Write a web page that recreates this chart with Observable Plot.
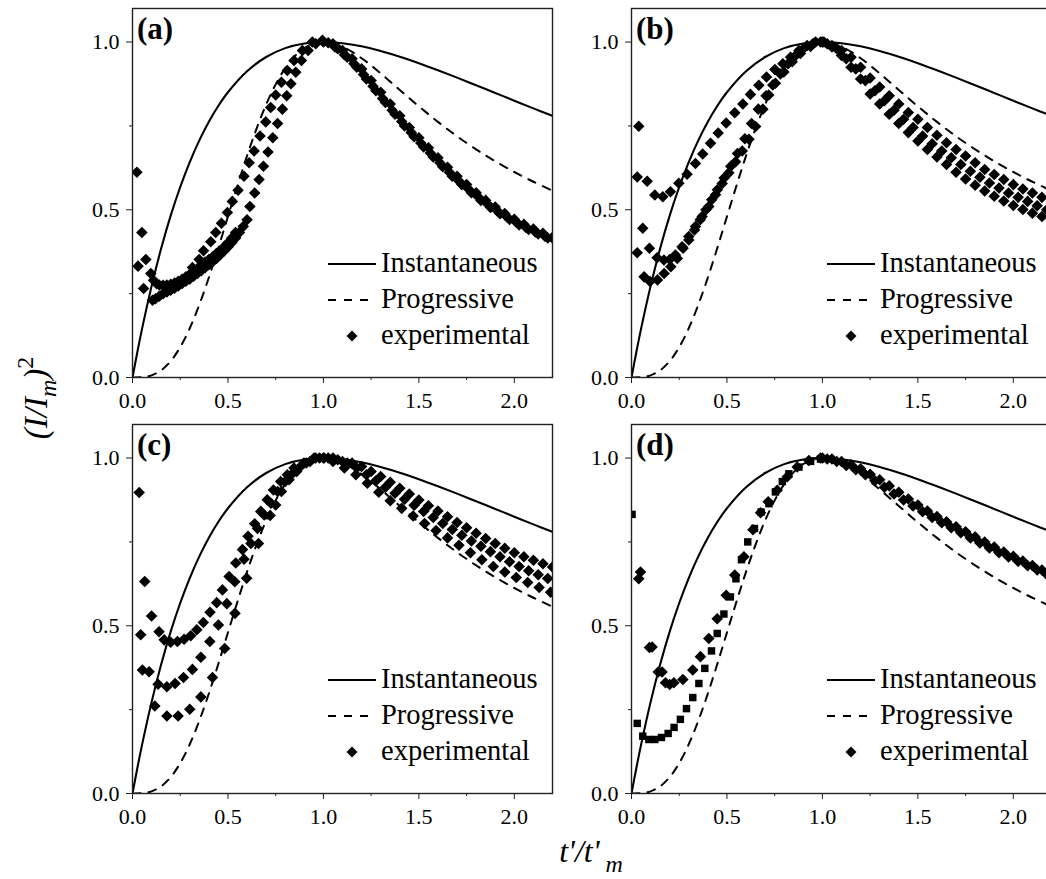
<!DOCTYPE html>
<html>
<head>
<meta charset="utf-8">
<script src="https://cdn.jsdelivr.net/npm/d3@7"></script>
<script src="https://cdn.jsdelivr.net/npm/@observablehq/plot@0.6"></script>
<style>
html, body { margin:0; padding:0; background:#fff; }
#fig { position:relative; width:1046px; height:879px; overflow:hidden; background:#fff; font-family:"Liberation Serif","Times New Roman",serif; }
#fig svg { position:absolute; }
</style>
</head>
<body>
<div id="fig"></div>
<script>
// ---------- theoretical curves ----------
const instX = [0, 0.025, 0.05, 0.1, 0.15, 0.2, 0.25, 0.3, 0.35, 0.4, 0.45, 0.5, 0.6, 0.7, 0.8, 0.9, 1.0, 1.1, 1.2, 1.3, 1.4, 1.5, 1.6, 1.7, 1.8, 1.9, 2.0, 2.1, 2.2];
const instY = [0, 0.0747, 0.1449, 0.2724, 0.3844, 0.4825, 0.5679, 0.6423, 0.7068, 0.7624, 0.8100, 0.8503, 0.9129, 0.9554, 0.9819, 0.9959, 0.9999, 0.9965, 0.9872, 0.9735, 0.9565, 0.9371, 0.9161, 0.8940, 0.8712, 0.8482, 0.8252, 0.8023, 0.7798];
const progX = [0, 0.05, 0.1, 0.15, 0.2, 0.25, 0.3, 0.35, 0.4, 0.45, 0.5, 0.55, 0.6, 0.65, 0.7, 0.75, 0.8, 0.85, 0.9, 0.95, 1.0, 1.1, 1.2, 1.3, 1.4, 1.5, 1.6, 1.7, 1.8, 1.9, 2.0, 2.1, 2.2];
const progY = [0, 0.0008, 0.0065, 0.0214, 0.0488, 0.0905, 0.1469, 0.2170, 0.2981, 0.3870, 0.4797, 0.5722, 0.6608, 0.7421, 0.8137, 0.8739, 0.9221, 0.9579, 0.9822, 0.9958, 1.0000, 0.9861, 0.9518, 0.9066, 0.8574, 0.8084, 0.7620, 0.7191, 0.6801, 0.6447, 0.6126, 0.5835, 0.5570];

// ---------- axis ticks ----------
const xMajor = [0, 0.5, 1.0, 1.5, 2.0];
const xMinor = [0.25, 0.75, 1.25, 1.75];
const yMajor = [0, 0.5, 1.0];
const yMinor = [0.25, 0.75];

// ---------- panel (a) experimental ----------
const aEarly = [[0.023,0.612],[0.049,0.432],[0.070,0.352],[0.029,0.332],[0.058,0.265]];
const aDenseUpper = [[0.096,0.31],[0.11,0.29],[0.125,0.28],[0.14,0.276],[0.16,0.275],[0.18,0.276],[0.20,0.278],[0.22,0.282],[0.24,0.287],[0.26,0.293],[0.28,0.30],[0.30,0.308],[0.32,0.317],[0.34,0.325],[0.36,0.334],[0.38,0.344],[0.40,0.352],[0.42,0.36],[0.44,0.37],[0.46,0.378],[0.48,0.39],[0.50,0.402],[0.52,0.416],[0.54,0.432]];
const aDenseLower = [[0.105,0.23],[0.12,0.235],[0.14,0.242],[0.16,0.25],[0.18,0.255],[0.20,0.26],[0.22,0.266],[0.24,0.273],[0.26,0.28],[0.28,0.287],[0.30,0.294],[0.32,0.302],[0.34,0.31],[0.36,0.318],[0.38,0.327],[0.40,0.336],[0.42,0.345],[0.44,0.355],[0.46,0.366],[0.48,0.377],[0.50,0.389],[0.52,0.402],[0.54,0.416],[0.56,0.432],[0.58,0.45],[0.60,0.47]];
const aChainUpper = [[0.314,0.328],[0.349,0.352],[0.372,0.378],[0.41,0.405],[0.436,0.432],[0.466,0.46],[0.497,0.492],[0.523,0.525],[0.553,0.558],[0.584,0.6],[0.611,0.64],[0.637,0.675],[0.668,0.72],[0.698,0.762],[0.724,0.805],[0.75,0.842],[0.78,0.88],[0.811,0.915],[0.846,0.945],[0.89,0.975],[0.942,1.0],[0.995,1.005]];
const aChainLower = [[0.615,0.51],[0.64,0.55],[0.663,0.59],[0.686,0.63],[0.71,0.672],[0.735,0.715],[0.76,0.757],[0.785,0.8],[0.808,0.84],[0.83,0.876],[0.855,0.91],[0.885,0.945],[0.92,0.975],[0.96,0.995]];
const aDecay1 = [[1.0,1.0],[1.05,0.995],[1.1,0.975],[1.15,0.95],[1.2,0.92],[1.25,0.885],[1.3,0.85],[1.35,0.815],[1.4,0.78],[1.45,0.745],[1.5,0.715],[1.55,0.685],[1.6,0.655],[1.65,0.627],[1.7,0.6],[1.75,0.575],[1.8,0.551],[1.85,0.528],[1.9,0.508],[1.95,0.489],[2.0,0.472],[2.05,0.457],[2.1,0.443],[2.15,0.43],[2.2,0.418]];
const aDecay2 = [[1.025,0.998],[1.075,0.98],[1.125,0.955],[1.175,0.925],[1.225,0.89],[1.275,0.855],[1.325,0.82],[1.375,0.785],[1.425,0.75],[1.475,0.718],[1.525,0.687],[1.575,0.657],[1.625,0.628],[1.675,0.6],[1.725,0.575],[1.775,0.551],[1.825,0.528],[1.875,0.507],[1.925,0.488],[1.975,0.471],[2.025,0.455],[2.075,0.441],[2.125,0.428],[2.175,0.416]];
const aDecay3 = [[1.06,0.985],[1.11,0.962],[1.16,0.935],[1.21,0.903],[1.26,0.868],[1.31,0.832],[1.36,0.797],[1.41,0.763],[1.46,0.73],[1.51,0.699],[1.56,0.669],[1.61,0.64],[1.66,0.612],[1.71,0.586],[1.76,0.562],[1.81,0.539],[1.86,0.517],[1.91,0.497],[1.96,0.479],[2.01,0.463],[2.06,0.448],[2.11,0.434],[2.16,0.421],[2.21,0.41]];

// ---------- panel (b) experimental ----------
const bUpper = [[0.038,0.749],[0.030,0.598],[0.082,0.585],[0.122,0.544],[0.164,0.539],[0.204,0.554],[0.248,0.579],[0.291,0.606],[0.335,0.638],[0.373,0.666],[0.414,0.698],[0.454,0.729],[0.496,0.759],[0.541,0.789],[0.583,0.815],[0.623,0.844],[0.667,0.871],[0.707,0.896],[0.751,0.918],[0.793,0.935],[0.833,0.955],[0.877,0.975],[0.92,0.99],[0.964,1.0],[1.008,1.0]];
const bMiddle = [[0.030,0.372],[0.059,0.445],[0.094,0.385],[0.134,0.357],[0.17,0.35],[0.2,0.352],[0.23,0.365],[0.265,0.39],[0.3,0.42],[0.335,0.45],[0.37,0.48],[0.405,0.51],[0.44,0.545],[0.475,0.578],[0.51,0.61],[0.545,0.643],[0.58,0.675],[0.615,0.71],[0.65,0.748],[0.688,0.8],[0.719,0.842],[0.754,0.877],[0.798,0.911],[0.842,0.941],[0.885,0.966],[0.938,0.987],[0.99,1.0]];
const bLower = [[0.066,0.30],[0.097,0.286],[0.136,0.291],[0.171,0.31],[0.206,0.33],[0.24,0.355],[0.27,0.385],[0.3,0.41],[0.33,0.44],[0.36,0.47],[0.39,0.5],[0.42,0.53],[0.45,0.56],[0.485,0.595],[0.52,0.63],[0.555,0.668],[0.594,0.712],[0.629,0.757],[0.664,0.8],[0.705,0.84],[0.74,0.872],[0.78,0.905],[0.82,0.935],[0.86,0.96],[0.9,0.98],[0.95,0.995]];
const bDecayTop = [[1.0,1.0],[1.05,0.99],[1.1,0.975],[1.15,0.955],[1.2,0.925],[1.25,0.893],[1.3,0.866],[1.35,0.84],[1.4,0.815],[1.45,0.79],[1.5,0.77],[1.55,0.745],[1.6,0.722],[1.65,0.70],[1.7,0.68],[1.75,0.66],[1.8,0.64],[1.85,0.62],[1.9,0.605],[1.95,0.59],[2.0,0.575],[2.05,0.562],[2.1,0.55],[2.15,0.537],[2.2,0.525]];
const bDecayMid = [[1.025,0.995],[1.075,0.98],[1.125,0.95],[1.175,0.92],[1.225,0.885],[1.275,0.855],[1.325,0.825],[1.375,0.797],[1.425,0.77],[1.475,0.745],[1.525,0.72],[1.575,0.697],[1.625,0.675],[1.675,0.655],[1.725,0.635],[1.775,0.615],[1.825,0.597],[1.875,0.58],[1.925,0.565],[1.975,0.55],[2.025,0.537],[2.075,0.525],[2.125,0.512],[2.175,0.5]];
const bDecayBot = [[1.05,0.985],[1.1,0.96],[1.15,0.925],[1.2,0.89],[1.25,0.845],[1.3,0.815],[1.35,0.785],[1.4,0.757],[1.45,0.73],[1.5,0.705],[1.55,0.68],[1.6,0.657],[1.65,0.635],[1.7,0.612],[1.75,0.592],[1.8,0.573],[1.85,0.556],[1.9,0.54],[1.95,0.526],[2.0,0.513],[2.05,0.501],[2.1,0.49],[2.15,0.48],[2.2,0.47]];

// ---------- panel (c) experimental ----------
const cUpper = [[0.035,0.897],[0.064,0.632],[0.1,0.529],[0.043,0.473],[0.139,0.482],[0.166,0.458],[0.2,0.451],[0.235,0.453],[0.27,0.46],[0.305,0.47],[0.337,0.488],[0.371,0.51],[0.406,0.54],[0.441,0.569],[0.471,0.607],[0.506,0.647],[0.541,0.687],[0.576,0.727],[0.605,0.767],[0.64,0.804],[0.672,0.841],[0.706,0.876],[0.738,0.905],[0.776,0.93],[0.811,0.95],[0.846,0.97],[0.898,0.985],[0.951,1.0],[1.003,1.0]];
const cMiddle = [[0.052,0.368],[0.087,0.363],[0.134,0.326],[0.18,0.318],[0.223,0.328],[0.267,0.346],[0.314,0.37],[0.358,0.406],[0.405,0.453],[0.45,0.502],[0.494,0.566],[0.536,0.631],[0.584,0.698],[0.62,0.745],[0.655,0.79],[0.69,0.83],[0.725,0.865],[0.76,0.9],[0.8,0.93],[0.84,0.955],[0.88,0.975],[0.93,0.99],[0.98,1.0]];
const cLower = [[0.117,0.261],[0.18,0.231],[0.239,0.231],[0.3,0.251],[0.358,0.288],[0.419,0.346],[0.483,0.432],[0.537,0.537],[0.598,0.642],[0.66,0.745],[0.721,0.829],[0.75,0.86],[0.78,0.9],[0.82,0.935],[0.86,0.96],[0.91,0.985],[0.96,1.0]];
const cDecayTop = [[1.0,1.0],[1.05,1.0],[1.1,0.99],[1.15,0.985],[1.2,0.975],[1.25,0.96],[1.3,0.945],[1.35,0.928],[1.4,0.91],[1.45,0.893],[1.5,0.875],[1.55,0.858],[1.6,0.842],[1.65,0.825],[1.7,0.808],[1.75,0.792],[1.8,0.776],[1.85,0.76],[1.9,0.745],[1.95,0.731],[2.0,0.718],[2.05,0.706],[2.1,0.695],[2.15,0.685],[2.2,0.675]];
const cDecayMid = [[1.025,1.0],[1.075,0.995],[1.125,0.985],[1.175,0.97],[1.225,0.95],[1.275,0.932],[1.325,0.913],[1.375,0.895],[1.425,0.877],[1.475,0.859],[1.525,0.841],[1.575,0.823],[1.625,0.805],[1.675,0.787],[1.725,0.77],[1.775,0.753],[1.825,0.737],[1.875,0.721],[1.925,0.706],[1.975,0.691],[2.025,0.677],[2.075,0.664],[2.125,0.652],[2.175,0.641]];
const cDecayBot = [[1.05,0.99],[1.11,0.97],[1.17,0.95],[1.23,0.925],[1.29,0.898],[1.35,0.873],[1.41,0.85],[1.47,0.827],[1.53,0.805],[1.59,0.784],[1.65,0.762],[1.71,0.74],[1.77,0.718],[1.83,0.697],[1.89,0.677],[1.95,0.66],[2.01,0.644],[2.07,0.629],[2.13,0.614],[2.19,0.6]];

// ---------- panel (d) experimental ----------
const dSquares = [[0.003,0.832],[0.03,0.209],[0.059,0.171],[0.091,0.161],[0.122,0.161],[0.157,0.167],[0.192,0.179],[0.223,0.197],[0.256,0.221],[0.288,0.253],[0.321,0.286],[0.353,0.328],[0.384,0.373],[0.419,0.425],[0.449,0.477],[0.484,0.535],[0.518,0.586],[0.547,0.64],[0.576,0.697],[0.609,0.75],[0.644,0.79],[0.679,0.839],[0.72,0.864],[0.754,0.899],[0.79,0.93],[0.824,0.953],[0.877,0.973],[0.938,0.99],[0.99,0.997]];
const dDiamonds = [[0.038,0.64],[0.047,0.66],[0.094,0.435],[0.108,0.437],[0.14,0.362],[0.16,0.362],[0.178,0.33],[0.2,0.325],[0.222,0.33],[0.269,0.34],[0.321,0.368],[0.361,0.408],[0.405,0.462],[0.449,0.521],[0.496,0.591],[0.541,0.651],[0.589,0.706],[0.636,0.786],[0.676,0.837],[0.716,0.87],[0.763,0.904],[0.816,0.944],[0.868,0.973],[0.929,0.993],[0.99,1.0]];
const dDecay1 = [[1.0,1.0],[1.05,0.997],[1.1,0.99],[1.15,0.98],[1.2,0.968],[1.25,0.952],[1.3,0.935],[1.35,0.917],[1.4,0.898],[1.45,0.878],[1.5,0.86],[1.55,0.842],[1.6,0.826],[1.65,0.81],[1.7,0.795],[1.75,0.78],[1.8,0.765],[1.85,0.75],[1.9,0.735],[1.95,0.72],[2.0,0.707],[2.05,0.693],[2.1,0.68],[2.15,0.666],[2.2,0.653]];
const dDecay2 = [[1.025,0.997],[1.075,0.99],[1.125,0.978],[1.175,0.965],[1.225,0.95],[1.275,0.932],[1.325,0.913],[1.375,0.893],[1.425,0.875],[1.475,0.857],[1.525,0.84],[1.575,0.823],[1.625,0.807],[1.675,0.792],[1.725,0.777],[1.775,0.762],[1.825,0.747],[1.875,0.732],[1.925,0.718],[1.975,0.705],[2.025,0.692],[2.075,0.679],[2.125,0.666],[2.175,0.653]];

const legendLabels = ["Instantaneous", "Progressive", "experimental"];
const panelLabels = ["(a)", "(b)", "(c)", "(d)"];

// ---------- build ----------
const toPts = arr => arr.map(([x, y]) => ({x, y}));
const instTable = instX.map((x, i) => ({x, y: instY[i]}));
const progTable = progX.map((x, i) => ({x, y: progY[i]}));

const diamondSym = {
  draw(ctx, size) {
    const r = Math.sqrt(size / 2);
    ctx.moveTo(0, -r); ctx.lineTo(r, 0); ctx.lineTo(0, r); ctx.lineTo(-r, 0); ctx.closePath();
  }
};

const W = 482, H = 424, ML = 60, MR = 2, MT = 10, MB = 45;
const FONT = "'Liberation Serif', 'Times New Roman', serif";
const DR = 4.6;

const panels = [
  {label: panelLabels[0], left: 131.7, top: 8.3, diamonds: [aEarly, aDenseUpper, aDenseLower, aChainUpper, aChainLower, aDecay1, aDecay2, aDecay3], squares: []},
  {label: panelLabels[1], left: 630.7, top: 8.3, diamonds: [bUpper, bMiddle, bLower, bDecayTop, bDecayMid, bDecayBot], squares: []},
  {label: panelLabels[2], left: 131.7, top: 424, diamonds: [cUpper, cMiddle, cLower, cDecayTop, cDecayMid, cDecayBot], squares: []},
  {label: panelLabels[3], left: 630.7, top: 424, diamonds: [dDiamonds, dDecay1, dDecay2], squares: [dSquares]}
];

const fig = document.getElementById("fig");
const NS = "http://www.w3.org/2000/svg";
function el(name, attrs, text) {
  const e = document.createElementNS(NS, name);
  for (const k in attrs) e.setAttribute(k, attrs[k]);
  if (text != null) e.textContent = text;
  return e;
}

for (const p of panels) {
  const dia = p.diamonds.flatMap(toPts);
  const sq = p.squares.flatMap(toPts);
  const chart = Plot.plot({
    width: W, height: H,
    marginLeft: ML, marginRight: MR, marginTop: MT, marginBottom: MB,
    style: {fontFamily: FONT, fontSize: "22px", color: "black", background: "transparent", overflow: "visible"},
    x: {domain: [0, 2.2], label: null},
    y: {domain: [0, 1.1], label: null},
    marks: [
      Plot.line(instTable, {x: "x", y: "y", curve: "catmull-rom", stroke: "black", strokeWidth: 2.1, clip: true}),
      Plot.line(progTable, {x: "x", y: "y", curve: "catmull-rom", stroke: "black", strokeWidth: 2, strokeDasharray: "8,8", clip: true}),
      Plot.dot(sq, {x: "x", y: "y", symbol: "square", r: 4.2, fill: "black", stroke: "none", clip: true}),
      Plot.dot(dia, {x: "x", y: "y", symbol: diamondSym, r: DR, fill: "black", stroke: "none", clip: true}),
      Plot.frame({stroke: "#222", strokeWidth: 1.4}),
      Plot.axisX(xMajor, {tickSize: 6, tickPadding: 9, tickFormat: d3.format(".1f"), label: null, stroke: "#222"}),
      Plot.axisX(xMinor, {tickSize: 3, tickFormat: () => "", label: null, stroke: "#222"}),
      Plot.axisY(yMajor, {tickSize: 6, tickPadding: 7, tickFormat: d3.format(".1f"), label: null, stroke: "#222"}),
      Plot.axisY(yMinor, {tickSize: 3, tickFormat: () => "", label: null, stroke: "#222"})
    ]
  });
  chart.style.left = (p.left - ML) + "px";
  chart.style.top = (p.top - MT) + "px";
  fig.appendChild(chart);

  // legend and panel label overlay
  const lg = el("svg", {width: 420, height: 369, style: `left:${p.left}px;top:${p.top}px;overflow:visible;font-family:${FONT}`});
  lg.appendChild(el("text", {x: 5, y: 31, "font-size": 31, "font-weight": "bold", fill: "black"}, p.label));
  lg.appendChild(el("line", {x1: 196, x2: 244, y1: 256, y2: 256, stroke: "black", "stroke-width": 2}));
  lg.appendChild(el("text", {x: 249, y: 264, "font-size": 28.5, fill: "black"}, legendLabels[0]));
  lg.appendChild(el("line", {x1: 196, x2: 244, y1: 292, y2: 292, stroke: "black", "stroke-width": 2, "stroke-dasharray": "8,8"}));
  lg.appendChild(el("text", {x: 249, y: 300, "font-size": 28.5, fill: "black"}, legendLabels[1]));
  lg.appendChild(el("path", {d: "M220,322.5L225.5,328L220,333.5L214.5,328Z", fill: "black"}));
  lg.appendChild(el("text", {x: 249, y: 336, "font-size": 28.5, fill: "black"}, legendLabels[2]));
  fig.appendChild(lg);
}

// axis titles
const t = el("svg", {width: 1046, height: 879, style: `left:0;top:0;font-family:${FONT}`});
const yl = el("text", {transform: "translate(47,398) rotate(-90)", "text-anchor": "middle", "font-size": 33, "font-style": "italic", fill: "black"});
yl.appendChild(document.createTextNode("(I/I"));
yl.appendChild(el("tspan", {"font-size": 24, dy: 9}, "m"));
yl.appendChild(el("tspan", {dy: -9}, ")"));
yl.appendChild(el("tspan", {"font-size": 24, dy: -14, "font-style": "normal"}, "2"));
t.appendChild(yl);
const xl = el("text", {x: 591, y: 862, "text-anchor": "middle", "font-size": 32, "font-style": "italic", fill: "black"});
xl.appendChild(document.createTextNode("t'/t'"));
xl.appendChild(el("tspan", {"font-size": 24, dy: 10, dx: 6}, "m"));
t.appendChild(xl);
fig.appendChild(t);
</script>
</body>
</html>
